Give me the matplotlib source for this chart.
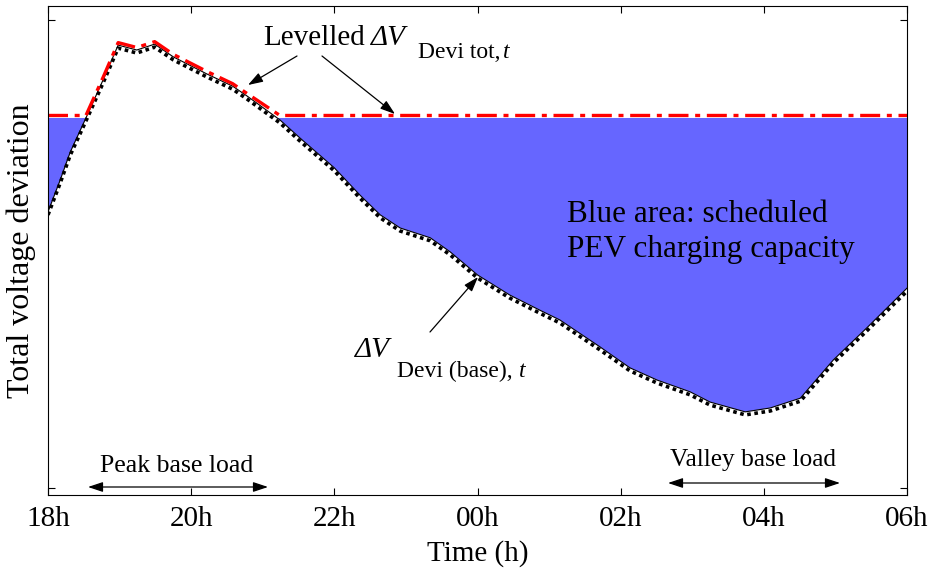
import matplotlib
matplotlib.use("Agg")
import matplotlib.pyplot as plt
import matplotlib.transforms as mtransforms
import numpy as np

# base-load total voltage deviation (arbitrary units)
hours = [18.00, 18.17, 18.31, 18.53, 18.77, 18.98, 19.24, 19.49, 19.75, 20.22,
         20.58, 20.78, 21.24, 21.52, 22.00, 22.36, 22.64, 22.92, 23.34, 23.62,
         24.00, 24.45, 24.87, 25.15, 25.71, 26.13, 26.51, 26.97, 27.25, 27.74,
         28.09, 28.51, 28.97, 29.44, 30.00]
dv_base = [0.579, 0.644, 0.701, 0.771, 0.849, 0.920, 0.910, 0.922, 0.896, 0.861,
           0.836, 0.816, 0.767, 0.730, 0.669, 0.613, 0.573, 0.546, 0.526, 0.497,
           0.450, 0.409, 0.378, 0.358, 0.303, 0.260, 0.235, 0.211, 0.190, 0.170,
           0.178, 0.198, 0.276, 0.342, 0.423]
level = 0.771

tick_hours = [18, 20, 22, 24, 26, 28, 30]
tick_labels = ["18h", "20h", "22h", "00h", "02h", "04h", "06h"]

plt.rcParams["font.family"] = ["Liberation Serif", "DejaVu Serif"]

h = np.array(hours)
base = np.array(dv_base)
levelled = np.maximum(base, level)

fig = plt.figure(figsize=(9.35, 5.71), dpi=100)
ax = fig.add_axes([48 / 935, 76 / 571, 859 / 935, 489 / 571])

ax.fill_between(h, base, level, where=base <= level, interpolate=True,
                color="#6666ff", linewidth=0)

dot_tr = mtransforms.offset_copy(ax.transData, fig, x=0, y=-3, units="dots")
red_tr = mtransforms.offset_copy(ax.transData, fig, x=0, y=2.5, units="dots")
ax.plot(h, base, color="black", lw=2.6, ls=(0, (1, 1)), transform=dot_tr)
ax.plot(h, base, color="black", lw=0.8)
ax.plot(h, levelled, color="red", lw=2.4, ls=(0, (6, 2, 1.5, 2)), transform=red_tr)

ax.set_xlim(18, 30)
ax.set_ylim(0, 1)
ax.set_xticks(tick_hours)
ax.set_xticklabels(tick_labels, fontsize=21)
ax.set_yticks([0.014, 0.971])
ax.set_yticklabels([])
ax.tick_params(direction="in", top=True, right=True, length=5, pad=8)
ax.set_xlabel("Time (h)", fontsize=21, labelpad=6)
ax.set_ylabel("Total voltage deviation", fontsize=23)
ax.yaxis.set_label_coords(-12 / 859, 0.5)


def ax_xy(px, py):
    # reference pixel position -> axes fraction
    return ((px - 48) / 859, (495 - py) / 489)


def put(px, py, s, size, style="normal"):
    ax.text(*ax_xy(px, py), s, transform=ax.transAxes, fontsize=size,
            style=style, ha="left", va="baseline")


# levelled curve label
put(263, 45, "Levelled", 21)
put(371, 45, "\u0394V", 21, "italic")
put(418, 58, "Devi tot,", 17)
put(503, 58, "t", 17, "italic")

arrow_kw = dict(arrowstyle="-|>,head_length=0.9,head_width=0.3", color="black", lw=0.9,
                shrinkA=0, shrinkB=0)
ax.annotate("", xy=ax_xy(248, 85), xytext=ax_xy(297, 56), xycoords="axes fraction",
            textcoords="axes fraction", arrowprops=arrow_kw)
ax.annotate("", xy=ax_xy(395, 114), xytext=ax_xy(322, 56), xycoords="axes fraction",
            textcoords="axes fraction", arrowprops=arrow_kw)

# base curve label
put(355, 357, "\u0394V", 21, "italic")
put(397, 377, "Devi (base),", 17)
put(519, 377, "t", 17, "italic")
ax.annotate("", xy=ax_xy(478, 277), xytext=ax_xy(430, 332), xycoords="axes fraction",
            textcoords="axes fraction", arrowprops=arrow_kw)

ax.text(*ax_xy(567, 232), "Blue area: scheduled\nPEV charging capacity",
        transform=ax.transAxes, fontsize=22.5, va="center", ha="left", linespacing=1.3)

dbl_kw = dict(arrowstyle="<|-|>,head_length=0.9,head_width=0.3", color="black", lw=0.9,
              shrinkA=0, shrinkB=0)
ax.annotate("", xy=ax_xy(88, 487), xytext=ax_xy(268, 487), xycoords="axes fraction",
            textcoords="axes fraction", arrowprops=dbl_kw)
ax.text(*ax_xy(177, 466), "Peak base load", transform=ax.transAxes, fontsize=18.5,
        ha="center", va="center")
ax.annotate("", xy=ax_xy(668, 483), xytext=ax_xy(840, 483), xycoords="axes fraction",
            textcoords="axes fraction", arrowprops=dbl_kw)
ax.text(*ax_xy(753, 460), "Valley base load", transform=ax.transAxes, fontsize=18.3,
        ha="center", va="center")

fig.savefig("out.png", dpi=100)
